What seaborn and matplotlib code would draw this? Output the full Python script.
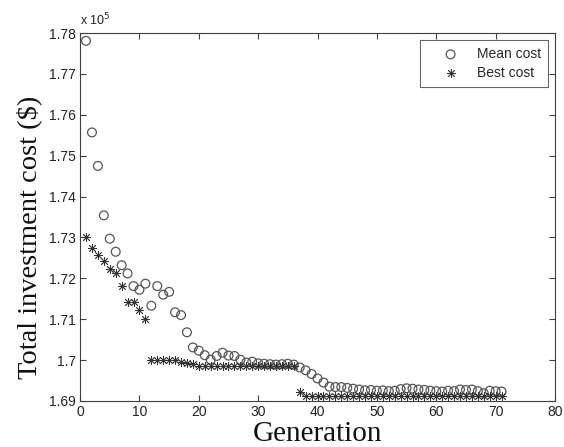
import matplotlib
matplotlib.use("Agg")
import matplotlib.pyplot as plt
import seaborn as sns
import numpy as np
import pandas as pd
from matplotlib.ticker import FixedLocator, FuncFormatter

generation = list(range(1, 72))

mean_cost = [
    177810, 175570, 174750, 173540, 172970, 172650, 172320, 172120, 171810, 171720,
    171870, 171330, 171810, 171600, 171670, 171170, 171100, 170680, 170310, 170230,
    170120, 170010, 170100, 170180, 170110, 170100, 170010, 169940, 169960, 169920,
    169910, 169900, 169890, 169900, 169910, 169890, 169820, 169750, 169660, 169550,
    169450, 169350, 169340, 169340, 169320, 169300, 169280, 169260, 169270, 169250,
    169260, 169240, 169250, 169290, 169310, 169300, 169280, 169270, 169250, 169240,
    169230, 169250, 169240, 169280, 169270, 169280, 169240, 169190, 169250, 169240,
    169230,
]

best_cost = [
    173000, 172730, 172570, 172420, 172220, 172130, 171810, 171420, 171420, 171230,
    171000, 170010, 170010, 170010, 170010, 170010, 169960, 169930, 169900, 169860,
    169850, 169850, 169850, 169850, 169850, 169850, 169850, 169850, 169850, 169850,
    169850, 169850, 169850, 169850, 169850, 169850, 169220, 169130, 169130, 169130,
    169130, 169130, 169130, 169130, 169130, 169130, 169130, 169130, 169130, 169130,
    169130, 169130, 169130, 169130, 169130, 169130, 169130, 169130, 169130, 169130,
    169130, 169130, 169130, 169130, 169130, 169130, 169130, 169130, 169130, 169130,
    169130,
]

x_ticks = [0, 10, 20, 30, 40, 50, 60, 70, 80]
y_ticks = [1.69, 1.70, 1.71, 1.72, 1.73, 1.74, 1.75, 1.76, 1.77, 1.78]

scale = 1e5
df = pd.DataFrame({
    "Generation": generation,
    "Mean": np.array(mean_cost) / scale,
    "Best": np.array(best_cost) / scale,
})

sns.set_theme(style="white")
plt.rcParams["font.family"] = ["Liberation Sans", "DejaVu Sans"]

fig = plt.figure(figsize=(5.64, 4.47), dpi=100)
ax = fig.add_axes([0.142, 0.103, 0.842, 0.823])

axis_col = "#404040"

sns.scatterplot(data=df, x="Generation", y="Mean", ax=ax, marker="o", s=40,
                facecolors="none", edgecolor="#555555", linewidth=0.9,
                label="Mean cost", zorder=3)
sns.scatterplot(data=df, x="Generation", y="Best", ax=ax, marker=(8, 2, 0), s=34,
                color="#333333", linewidth=0.6, label="Best cost", zorder=4)

ax.set_xlim(0, 80)
ax.set_ylim(1.69, 1.78)
ax.xaxis.set_major_locator(FixedLocator(x_ticks))
ax.yaxis.set_major_locator(FixedLocator(y_ticks))
ax.yaxis.set_major_formatter(FuncFormatter(lambda v, p: "%g" % round(v, 4)))

for sp in ax.spines.values():
    sp.set_visible(True)
    sp.set_color(axis_col)
    sp.set_linewidth(0.8)

ax.tick_params(direction="in", length=4, width=0.8, color=axis_col,
               top=True, right=True, bottom=True, left=True,
               labelsize=10, labelcolor="#222222", pad=3)

ax.set_xlabel("Generation", family=["Liberation Serif"], fontsize=21, color="#111111", labelpad=1)
ax.set_ylabel("Total investment cost (\\$)", family=["Liberation Serif"], fontsize=20.5,
              color="#111111")
ax.yaxis.set_label_coords(-0.08, 0.445)

ax.text(0.0, 1.012, "x 10$^5$", transform=ax.transAxes, fontsize=9,
        ha="left", va="bottom", color="#222222")

leg = ax.legend(loc="upper right", frameon=True, fancybox=False, fontsize=10,
                borderaxespad=0.5, handletextpad=0.2, handlelength=3.4,
                borderpad=0.5, labelspacing=0.37)
leg.get_frame().set_edgecolor(axis_col)
leg.get_frame().set_linewidth(0.8)

fig.savefig("out.png", dpi=100)
